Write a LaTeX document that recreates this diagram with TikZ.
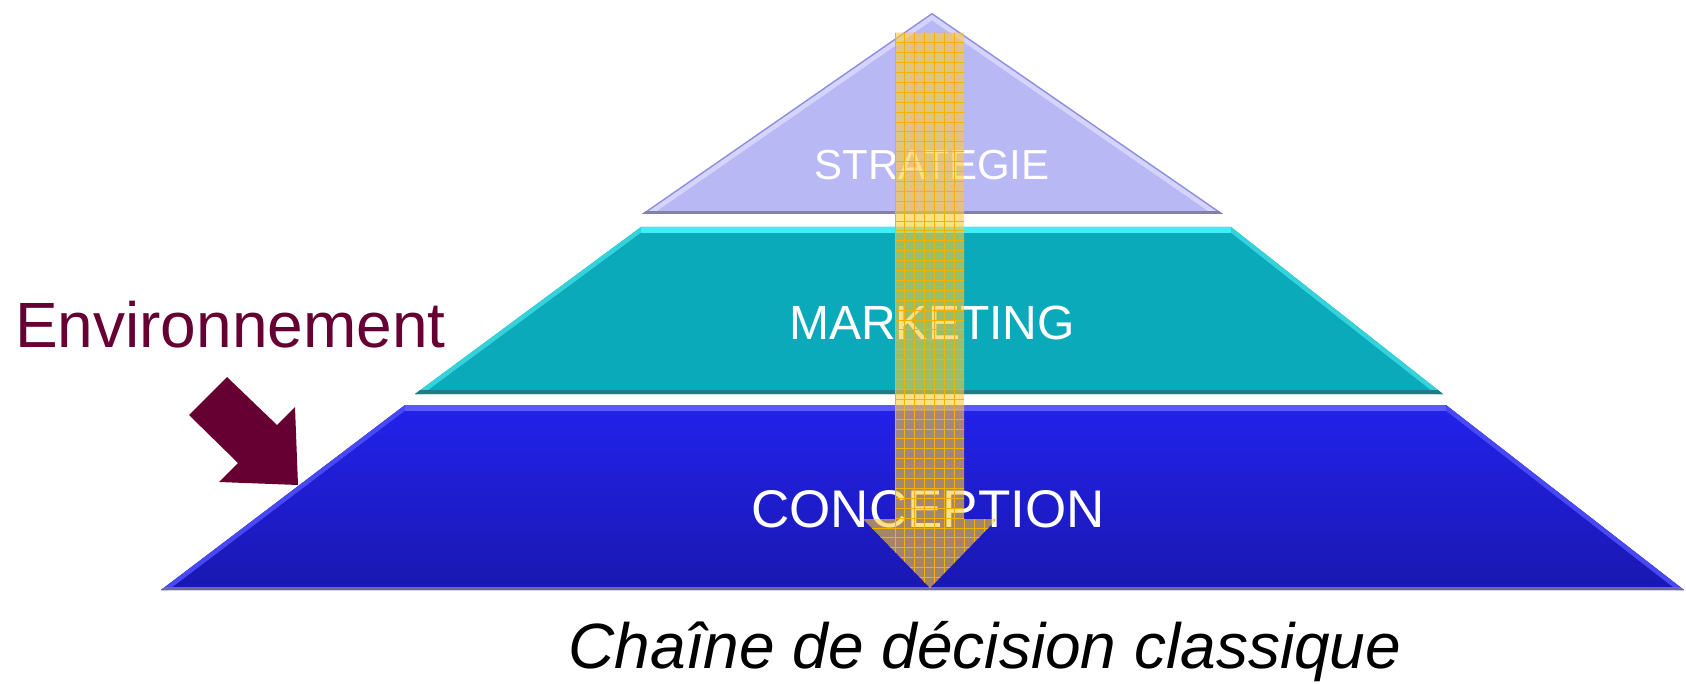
\documentclass[tikz,border=0pt]{standalone}
\usepackage{fontspec}
\setmainfont{Liberation Sans}
\definecolor{stratfill}{HTML}{B8B8F5}
\definecolor{stratedge}{HTML}{D4D4FF}
\definecolor{stratline}{HTML}{8C8CDA}
\definecolor{stratbot}{HTML}{8282A8}
\definecolor{markfill}{HTML}{0BAABB}
\definecolor{marktop}{HTML}{3FEFF5}
\definecolor{markedge}{HTML}{35D2DC}
\definecolor{markbot}{HTML}{247A80}
\definecolor{concA}{HTML}{2222EC}
\definecolor{concB}{HTML}{1A18B0}
\definecolor{conctop}{HTML}{5A5AF8}
\definecolor{concedge}{HTML}{4848F4}
\definecolor{concbot}{HTML}{6A6AA0}
\definecolor{envcol}{HTML}{660033}
\definecolor{arrfill}{HTML}{FFCC33}
\definecolor{gridcol}{HTML}{F2B200}
\tikzset{
  layertext/.style={text=white, anchor=base, inner sep=0pt},
}
\begin{document}
\begin{tikzpicture}[x=1pt,y=-1pt]
\useasboundingbox (0,0) rectangle (1686,684);
\fill[white] (0,0) rectangle (1686,684);
% ---------- STRATEGIE layer
\coordinate (sA) at (932,13);
\coordinate (sL) at (642,214);
\coordinate (sR) at (1223,214);
\fill[stratfill] (sA) -- (sL) -- (sR) -- cycle;
\begin{scope}
  \clip (sA) -- (sL) -- (sR) -- cycle;
  \draw[stratedge, line width=12pt, line join=round] (sL) -- (sA) -- (sR);
  \draw[stratline, line width=2.5pt, line join=round] (sL) -- (sA) -- (sR);
  \draw[stratbot, line width=6pt] (sL) -- (sR);
\end{scope}
% ---------- MARKETING layer
\coordinate (mTL) at (641,227);
\coordinate (mTR) at (1231,227);
\coordinate (mBR) at (1443,394);
\coordinate (mBL) at (415,394);
\fill[markfill] (mTL) -- (mTR) -- (mBR) -- (mBL) -- cycle;
\begin{scope}
  \clip (mTL) -- (mTR) -- (mBR) -- (mBL) -- cycle;
  \draw[markedge, line width=9pt] (mTL) -- (mBL) (mTR) -- (mBR);
  \draw[marktop, line width=12pt] (mTL) -- (mTR);
  \draw[markbot, line width=8pt] (mBL) -- (mBR);
\end{scope}
% ---------- CONCEPTION layer
\coordinate (cTL) at (405,405);
\coordinate (cTR) at (1446,405);
\coordinate (cBR) at (1684,590);
\coordinate (cBL) at (161,590);
\shade[top color=concA, bottom color=concB] (cTL) -- (cTR) -- (cBR) -- (cBL) -- cycle;
\begin{scope}
  \clip (cTL) -- (cTR) -- (cBR) -- (cBL) -- cycle;
  \draw[concedge, line width=9pt] (cTL) -- (cBL) (cTR) -- (cBR);
  \draw[conctop, line width=12pt] (cTL) -- (cTR);
  \draw[concbot, line width=6pt] (cBL) -- (cBR);
\end{scope}
% ---------- layer labels
\node[layertext, font=\fontsize{42}{50}\selectfont] (strat) at (932,180) {STRATEGIE};
\node[layertext, font=\fontsize{48}{56}\selectfont] (mark) at (932,340) {MARKETING};
\node[layertext, font=\fontsize{53}{60}\selectfont] (conc) at (928,527) {CONCEPTION};
% ---------- yellow decision arrow
\def\arrowpath{(895,33) -- (964,33) -- (964,519) -- (997,519) -- (930,588) -- (863,519) -- (895,519) -- cycle}
\fill[arrfill, fill opacity=0.6] \arrowpath;
\begin{scope}
  \clip \arrowpath;
  \foreach \gx in {895,904.9,...,1000} {\draw[gridcol, line width=1pt] (\gx,30) -- (\gx,590);}
  \foreach \gy in {33,42.9,...,590} {\draw[gridcol, line width=1pt] (860,\gy) -- (1000,\gy);}
\end{scope}
% ---------- Environnement
\node[anchor=base west, inner sep=0pt, text=envcol, font=\fontsize{64}{70}\selectfont] (env) at (15,348) {Environnement};
\fill[envcol] (227,377) -- (277,425) -- (295,407) -- (298,485) -- (219,482) -- (238,463) -- (189,415) -- cycle;
% ---------- caption
\node[anchor=base, inner sep=0pt, font=\fontsize{64}{70}\selectfont\itshape] (cap) at (985,668) {Chaîne de décision classique};
\end{tikzpicture}
\end{document}
